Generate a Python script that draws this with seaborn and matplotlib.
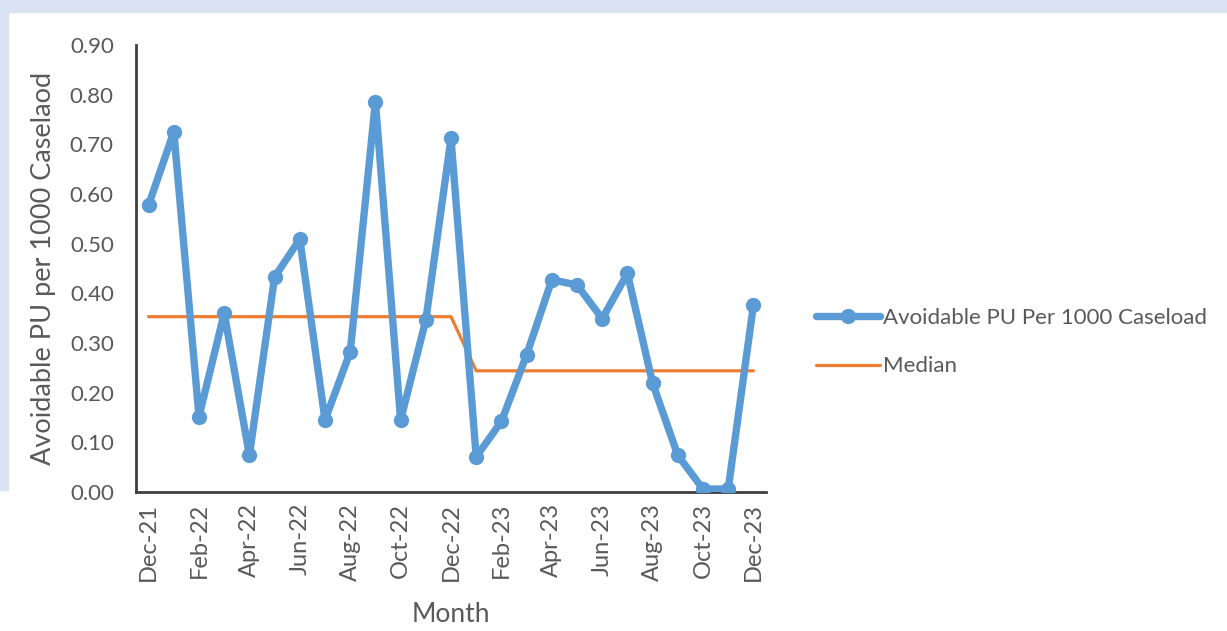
import numpy as np
import pandas as pd
import matplotlib
matplotlib.use('Agg')
import matplotlib.pyplot as plt
from matplotlib.patches import Rectangle
import seaborn as sns

months = ['Dec-21', 'Jan-22', 'Feb-22', 'Mar-22', 'Apr-22', 'May-22', 'Jun-22',
          'Jul-22', 'Aug-22', 'Sep-22', 'Oct-22', 'Nov-22', 'Dec-22',
          'Jan-23', 'Feb-23', 'Mar-23', 'Apr-23', 'May-23', 'Jun-23',
          'Jul-23', 'Aug-23', 'Sep-23', 'Oct-23', 'Nov-23', 'Dec-23']
avoidable_pu = [0.578, 0.725, 0.152, 0.360, 0.074, 0.433, 0.509,
                0.145, 0.282, 0.786, 0.145, 0.346, 0.712,
                0.071, 0.142, 0.276, 0.427, 0.417, 0.349,
                0.440, 0.219, 0.074, 0.006, 0.006, 0.376]
median = [0.353] * 13 + [0.244] * 12

df = pd.DataFrame({'pos': range(len(months)), 'month': months,
                   'value': avoidable_pu, 'median': median})

sns.set_style('white')
plt.rcParams['font.family'] = ['Lato', 'DejaVu Sans']

fig = plt.figure(figsize=(12.27, 6.31), dpi=100)
# light blue page frame
frame_col = '#dae3f3'
fig.patches.append(Rectangle((0, 1 - 12 / 631), 1, 12 / 631, transform=fig.transFigure,
                             color=frame_col, zorder=0))
fig.patches.append(Rectangle((0, 1 - 490 / 631), 8 / 1227, 478 / 631, transform=fig.transFigure,
                             color=frame_col, zorder=0))

ax = fig.add_axes([136 / 1227, 1 - 492 / 631, 630 / 1227, 447 / 631])
ax.set_facecolor('none')

sns.lineplot(data=df, x='pos', y='value', ax=ax, color='#5b9bd5', linewidth=5.3,
             marker='o', markersize=11, markeredgewidth=0,
             label='Avoidable PU Per 1000 Caseload', zorder=3)
sns.lineplot(data=df, x='pos', y='median', ax=ax, color='#ed7d31', linewidth=2.3,
             label='Median', zorder=2)

ax.set_xlim(-0.5, len(months) - 0.5)
ax.set_ylim(0, 0.9)
ax.set_yticks(np.arange(0, 0.91, 0.1))
ax.set_yticklabels([f'{v:.2f}' for v in np.arange(0, 0.91, 0.1)])

ax.set_xticks(np.arange(-0.5, len(months) - 1, 2))
ax.set_xticklabels([])
ax.set_xticks(range(0, len(months), 2), minor=True)
ax.set_xticklabels(months[::2], minor=True, rotation=90)
ax.tick_params(axis='x', which='minor', length=0, pad=8, labelsize=17)
ax.tick_params(axis='x', which='major', direction='in', length=6, width=1.5, color='#404040')
ax.tick_params(axis='y', direction='in', length=6, width=1.5, color='#404040', pad=16,
               labelsize=16)
ax.tick_params(axis='both', which='both', labelcolor='#595959')

for side in ['top', 'right']:
    ax.spines[side].set_visible(False)
for side in ['left', 'bottom']:
    ax.spines[side].set_color('#404040')
    ax.spines[side].set_linewidth(2)

ax.set_xlabel('Month', fontsize=19, color='#595959', labelpad=15)
ax.set_ylabel('Avoidable PU per 1000 Caselaod', fontsize=19.5, color='#595959', labelpad=10)

ax.legend(loc='center left', bbox_to_anchor=(796 / 1227, 1 - 342 / 631),
          bbox_transform=fig.transFigure, frameon=False, fontsize=16,
          handlelength=2.9, handletextpad=0.1, labelspacing=1.3,
          labelcolor='#595959')

fig.savefig('out.png', dpi=100)
plt.close(fig)
